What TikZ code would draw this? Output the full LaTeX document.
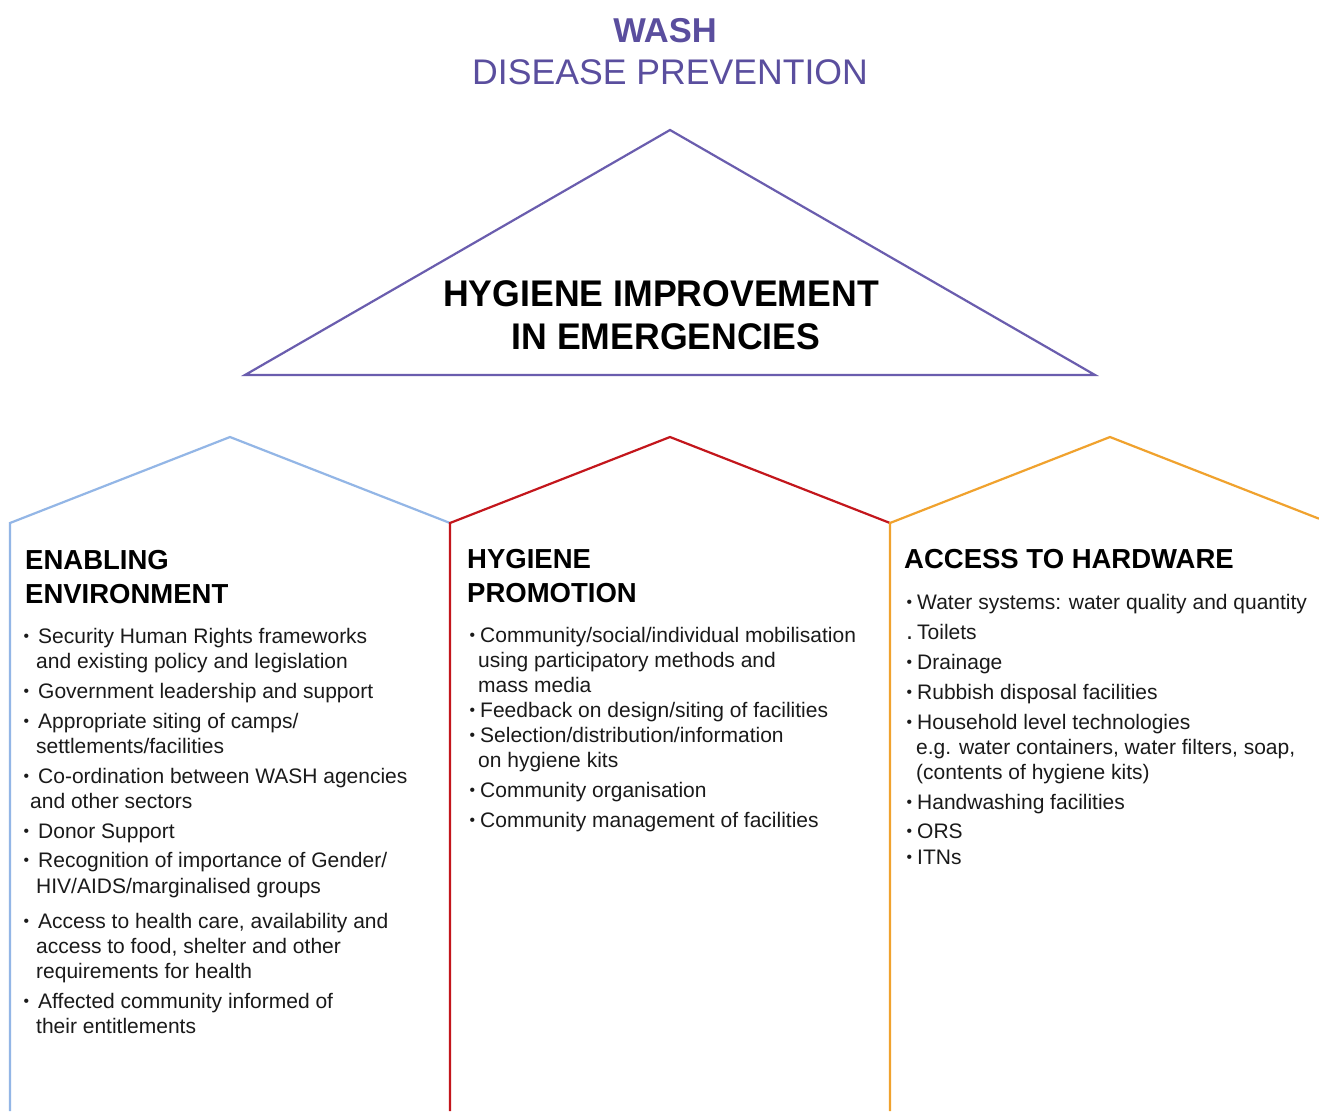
\documentclass[tikz,border=0pt]{standalone}
\usepackage{fontspec}
\setmainfont{Liberation Sans}
\definecolor{titlepurple}{HTML}{5A4E9E}
\definecolor{trilinecol}{HTML}{6A5DAE}
\definecolor{bluecol}{HTML}{93B6E6}
\definecolor{redcol}{HTML}{C3161C}
\definecolor{orangecol}{HTML}{F0A22E}
\definecolor{bodytext}{HTML}{1A1A1A}
\newcommand{\bulx}[1]{\llap{\raisebox{0.05em}{\scalebox{0.75}{\textbullet}}\hspace{#1}}}
\newcommand{\bulp}[1]{\llap{\scalebox{1.2}{.}\hspace{#1}}}
\tikzset{
  body/.style={anchor=base west, inner sep=0pt, font=\fontsize{21}{25}\selectfont, text=bodytext},
  colhead/.style={anchor=base west, inner sep=0pt, font=\fontsize{27.5}{33}\selectfont\bfseries, text=black},
  trihead/.style={anchor=base, inner sep=0pt, font=\fontsize{36}{43}\selectfont\bfseries, text=black},
  ttl/.style={anchor=base, inner sep=0pt, text=titlepurple},
  roof/.style={line width=2.2pt, line join=miter},
}
\begin{document}
\begin{tikzpicture}[x=1pt,y=-1pt]
\useasboundingbox[fill=white] (0,0) rectangle (1319,1111);

% title
\node[ttl, font=\fontsize{34.5}{40}\selectfont\bfseries] (wash) at (665,42) {WASH};
\node[ttl, font=\fontsize{35.6}{42}\selectfont] (dp) at (670,84) {DISEASE PREVENTION};

% triangle
\coordinate (tA) at (670,130);
\coordinate (tL) at (245,375);
\coordinate (tR) at (1095,375);
\draw[roof, color=trilinecol] (tA) -- (tL) -- (tR) -- cycle;
\node[trihead] (hi1) at (661,306) {\scalebox{0.99}[1.03]{HYGIENE IMPROVEMENT}};
\node[trihead] (hi2) at (666,349) {\scalebox{0.99}[1.03]{IN EMERGENCIES}};

% houses
\coordinate (b0) at (10,1111);
\coordinate (b1) at (10,523);
\coordinate (b2) at (230,437);
\coordinate (r0) at (450,1111);
\coordinate (r1) at (450,523);
\coordinate (r2) at (670,437);
\coordinate (o0) at (890,1111);
\coordinate (o1) at (890,523);
\coordinate (o2) at (1110,437);
\coordinate (o3) at (1319,518.7);
\draw[roof, color=bluecol] (b0) -- (b1) -- (b2) -- (r1);
\draw[roof, color=redcol] (r0) -- (r1) -- (r2) -- (o1);
\draw[roof, color=orangecol] (o0) -- (o1) -- (o2) -- (o3);

% left column
\node[colhead] (eh1) at (25,569) {ENABLING};
\node[colhead] (eh2) at (25,603) {ENVIRONMENT};
\node[body] (e1) at (38,643) {\bulx{9pt}Security Human Rights frameworks};
\node[body] (e2) at (36,668) {and existing policy and legislation};
\node[body] (e3) at (38,698) {\bulx{9pt}Government leadership and support};
\node[body] (e4) at (38,728) {\bulx{9pt}Appropriate siting of camps/};
\node[body] (e5) at (36,753) {settlements/facilities};
\node[body] (e6) at (38,783) {\bulx{9pt}Co-ordination between WASH agencies};
\node[body] (e7) at (30,808) {and other sectors};
\node[body] (e8) at (38,838) {\bulx{9pt}Donor Support};
\node[body] (e9) at (38,867) {\bulx{9pt}Recognition of importance of Gender/};
\node[body] (e10) at (36,893) {HIV/AIDS/marginalised groups};
\node[body] (e11) at (38,928) {\bulx{9pt}Access to health care, availability and};
\node[body] (e12) at (36,953) {access to food, shelter and other};
\node[body] (e13) at (36,978) {requirements for health};
\node[body] (e14) at (38,1008) {\bulx{9pt}Affected community informed of};
\node[body] (e15) at (36,1033) {their entitlements};

% middle column
\node[colhead] (ph1) at (467,568) {HYGIENE};
\node[colhead] (ph2) at (467,602) {PROMOTION};
\node[body] (p1) at (480,642) {\bulx{5pt}Community/social/individual mobilisation};
\node[body] (p2) at (478,667) {using participatory methods and};
\node[body] (p3) at (478,692) {mass media};
\node[body] (p4) at (480,717) {\bulx{5pt}Feedback on design/siting of facilities};
\node[body] (p5) at (480,742) {\bulx{5pt}Selection/distribution/information};
\node[body] (p6) at (478,767) {on hygiene kits};
\node[body] (p7) at (480,797) {\bulx{5pt}Community organisation};
\node[body] (p8) at (480,827) {\bulx{5pt}Community management of facilities};

% right column
\node[colhead] (hh1) at (904,568) {ACCESS TO HARDWARE};
\node[body] (h1) at (917,609) {\bulx{5pt}Water systems: water quality and quantity};
\node[body] (h2) at (917,639) {\bulp{4pt}Toilets};
\node[body] (h3) at (917,669) {\bulx{5pt}Drainage};
\node[body] (h4) at (917,699) {\bulx{5pt}Rubbish disposal facilities};
\node[body] (h5) at (917,729) {\bulx{5pt}Household level technologies};
\node[body] (h6) at (916,754) {e.g. water containers, water filters, soap,};
\node[body] (h7) at (916,779) {(contents of hygiene kits)};
\node[body] (h8) at (917,809) {\bulx{5pt}Handwashing facilities};
\node[body] (h9) at (917,838) {\bulx{5pt}ORS};
\node[body] (h10) at (917,864) {\bulx{5pt}ITNs};
\end{tikzpicture}
\end{document}
